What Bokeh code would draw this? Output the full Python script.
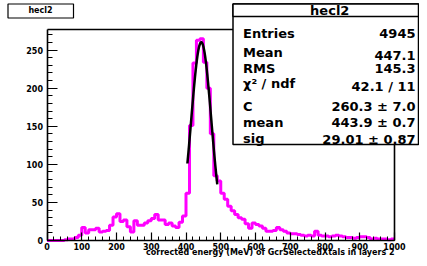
import numpy as np
from bokeh.plotting import figure
from bokeh.models import SingleIntervalTicker, FixedTicker, Label, BoxAnnotation, Range1d, LinearAxis
from bokeh.embed import file_html
from bokeh.resources import INLINE

# ---- data ----
bin_low_edges = list(range(0, 1000, 10))
bin_width = 10
counts = [
    0, 0, 0, 0, 0, 1, 2, 2, 4, 7,
    17, 10, 14, 14, 16, 11, 12, 13, 20, 31,
    35, 25, 27, 18, 11, 26, 20, 20, 23, 26,
    29, 34, 27, 27, 21, 23, 19, 17, 24, 32,
    62, 151, 233, 263, 265, 234, 200, 140, 85, 78,
    62, 54, 45, 39, 34, 30, 28, 22, 16, 23,
    21, 19, 16, 12, 12, 13, 17, 14, 12, 10,
    9, 9, 8, 7, 6, 7, 6, 12, 7, 6,
    6, 5, 6, 7, 6, 5, 4, 4, 3, 4,
    5, 5, 4, 2, 3, 2, 2, 2, 1, 2,
]
x_min, x_max = 0, 1000
y_min, y_max = 0, 277
fit_C, fit_mean, fit_sig = 260.3, 443.9, 29.01
fit_range = (404, 490)
hist_name = "hecl2"
x_title = "corrected energy (MeV) of GcrSelectedXtals in layers 2"
stat_names = ["Entries", "Mean", "RMS", "\u03c7\u00b2 / ndf", "C", "mean", "sig"]
stat_values = ["4945", "447.1", "145.3", "42.1 / 11", "260.3 \u00b1 7.0", "443.9 \u00b1 0.7", "29.01 \u00b1 0.87"]

FONT = "DejaVu Sans"
W, H = 419, 258
# pixel position of the histogram frame inside the canvas (layout)
PL, PR, PT, PB = 46.5, 394.0, 29.0, 240.0
ax_ = (PR - PL) / (x_max - x_min)
by_ = (PB - PT) / (y_max - y_min)
xr = Range1d(x_min - PL / ax_, x_max + (W - PR) / ax_)
yr = Range1d(y_min - (H - PB) / by_, y_max + PT / by_)

p = figure(width=W, height=H, x_range=xr, y_range=yr,
           output_backend="svg", toolbar_location=None, title=None, min_border=0)
p.background_fill_color = "white"
p.border_fill_color = "white"
p.outline_line_color = None
p.xgrid.visible = False
p.ygrid.visible = False

p.xaxis.ticker = SingleIntervalTicker(interval=100, num_minor_ticks=5)
p.yaxis.ticker = SingleIntervalTicker(interval=50, num_minor_ticks=5)
p.xaxis.fixed_location = y_min
p.yaxis.fixed_location = x_min
p.xaxis.bounds = (x_min, x_max)
p.yaxis.bounds = (y_min, y_max)
for ax in (p.xaxis[0], p.yaxis[0]):
    ax.major_tick_in = 8
    ax.major_tick_out = 0
    ax.minor_tick_in = 4
    ax.minor_tick_out = 0
    ax.axis_line_width = 1.6
    ax.major_tick_line_width = 1.2
    ax.minor_tick_line_width = 1
    ax.major_label_text_font = FONT
    ax.major_label_text_font_style = "bold"
    ax.major_label_text_font_size = "8px"
    ax.major_label_text_color = "black"
p.yaxis.major_tick_in = 10
p.yaxis.minor_tick_in = 5
p.xaxis.major_label_standoff = 2
p.yaxis.major_label_standoff = 4

# top and right frame lines (plain axes without ticks)
top_ax = LinearAxis(ticker=FixedTicker(ticks=[]), fixed_location=y_max, bounds=(x_min, x_max),
                    axis_line_width=1.6, major_tick_in=0, major_tick_out=0, minor_tick_in=0, minor_tick_out=0)
right_ax = LinearAxis(ticker=FixedTicker(ticks=[]), fixed_location=x_max, bounds=(y_min, y_max),
                      axis_line_width=1.6, major_tick_in=0, major_tick_out=0, minor_tick_in=0, minor_tick_out=0)
p.add_layout(top_ax, "below")
p.add_layout(right_ax, "left")

# histogram outline
xs = bin_low_edges + [bin_low_edges[-1] + bin_width]
ys = counts + [counts[-1]]
p.step(xs, ys, mode="after", line_color="#ff00ff", line_width=3)

# gaussian fit
xf = np.linspace(fit_range[0], fit_range[1], 200)
yf = fit_C * np.exp(-0.5 * ((xf - fit_mean) / fit_sig) ** 2)
p.line(xf, yf, line_color="black", line_width=2.5)


def sy(Y):  # canvas px from top -> screen y (from bottom)
    return H - Y


def lab(x, y, text, align="left", size="8px"):
    p.add_layout(Label(x=x, y=sy(y), x_units="screen", y_units="screen", text=text,
                       text_align=align, text_baseline="middle", text_font=FONT,
                       text_font_style="bold", text_font_size=size, text_color="black"))


def box(l, r, t, b, lw=1.5):
    p.add_layout(BoxAnnotation(left=l, right=r, top=sy(t), bottom=sy(b),
                               left_units="screen", right_units="screen",
                               top_units="screen", bottom_units="screen",
                               fill_color="white", fill_alpha=1, line_color="black",
                               line_width=lw, line_alpha=1))


# x axis title, right aligned at end of axis
lab(PR, 251.5, x_title, align="right")

# title box
box(7.5, 73, 3.5, 17.5, lw=1.2)
lab(40, 10, hist_name, align="center")

# stats box
SL, SR, ST, SB, SH = 232.5, 418, 3.5, 144, 16
box(SL, SR, ST, SB)
box(SL, SR, ST, SH)
lab((SL + 426) / 2, 9.5, hist_name, align="center", size="13px")
name_y = [33, 51.5, 67.5, 83, 105.5, 121.5, 137.5]
val_y = [33, 54.5, 67.5, 85.5, 105.5, 122, 138.5]
for name, val, ny, vy in zip(stat_names, stat_values, name_y, val_y):
    lab(242.5, ny, name, size="13px")
    lab(415, vy, val, align="right", size="13px")

open("out.html", "w").write(file_html(p, INLINE))
